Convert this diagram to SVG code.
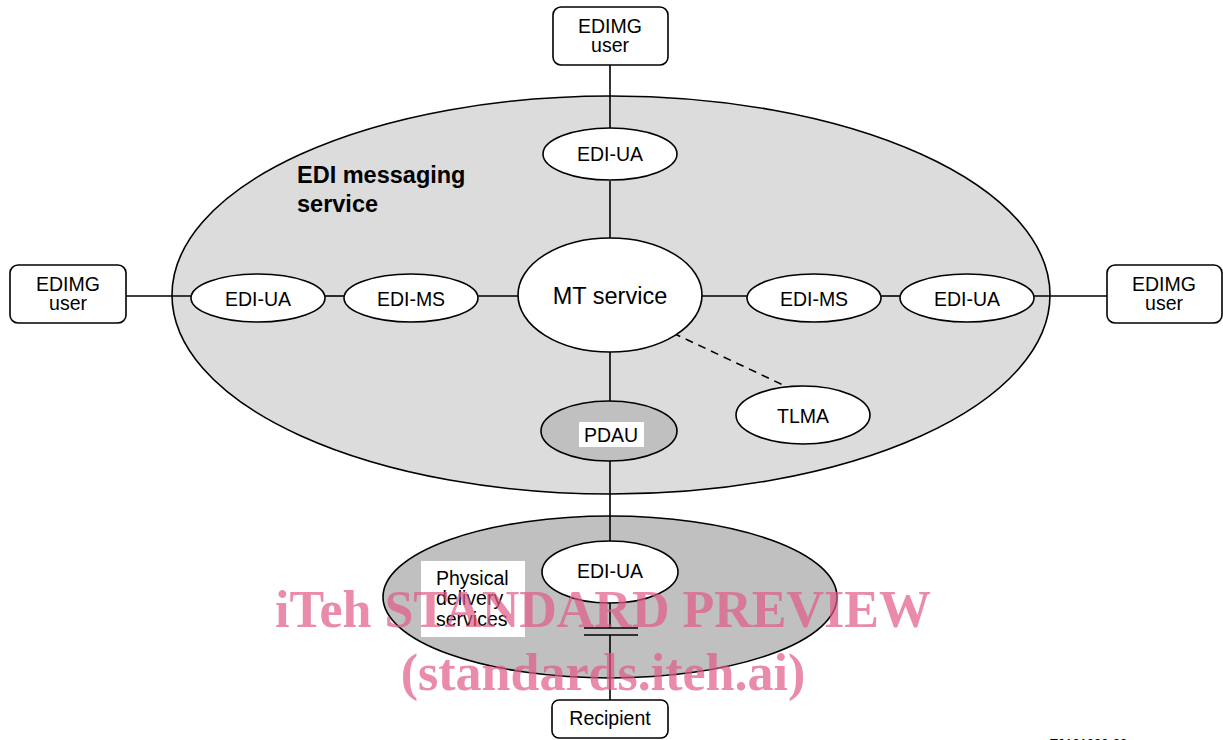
<svg xmlns="http://www.w3.org/2000/svg" width="1223" height="740" viewBox="0 0 1223 740">
  <style>
    .lbl { font-family: "Liberation Sans", Arial, sans-serif; font-size: 19.5px; fill: #000; text-anchor: middle; }
    .left { text-anchor: start; }
    .big { font-size: 23.5px; }
    .title { font-family: "Liberation Sans", Arial, sans-serif; font-size: 23.5px; font-weight: bold; fill: #000; }
    .node { fill: #fff; stroke: #000; stroke-width: 1.6; }
    .grey { fill: #c0c0c0; stroke: #000; stroke-width: 1.6; }
    .wire { stroke: #000; stroke-width: 1.6; fill: none; }
    .mark { font-family: "Liberation Serif", "Times New Roman", serif; font-weight: bold; fill: #e05a84; fill-opacity: 0.7; text-anchor: middle; }
  </style>

  <rect width="1223" height="740" fill="#fff"/>

  <!-- service areas -->
  <g id="edi-messaging-service">
    <ellipse cx="611" cy="295" rx="439" ry="199" fill="#dcdcdc" stroke="#000" stroke-width="1.6"/>
    <text class="title" x="297" y="183">EDI messaging</text>
    <text class="title" x="297" y="212">service</text>
  </g>
  <g id="physical-delivery-services">
    <ellipse cx="610" cy="597" rx="227" ry="81" class="grey"/>
    <rect x="421" y="561" width="104" height="76" fill="#fff"/>
    <text class="lbl left" x="436" y="585">Physical</text>
    <text class="lbl left" x="436" y="605">delivery</text>
    <text class="lbl left" x="436" y="626">services</text>
  </g>

  <!-- connectors -->
  <g id="connectors">
    <line class="wire" x1="610" y1="65" x2="610" y2="128"/>
    <line class="wire" x1="610" y1="181" x2="610" y2="238"/>
    <line class="wire" x1="126" y1="296" x2="192" y2="296"/>
    <line class="wire" x1="325" y1="296" x2="344" y2="296"/>
    <line class="wire" x1="478" y1="296" x2="518" y2="296"/>
    <line class="wire" x1="702" y1="296" x2="747" y2="296"/>
    <line class="wire" x1="881" y1="296" x2="900" y2="296"/>
    <line class="wire" x1="1034" y1="296" x2="1107" y2="296"/>
    <line class="wire" x1="610" y1="352" x2="610" y2="402"/>
    <line class="wire" x1="610" y1="461" x2="610" y2="541"/>
    <line class="wire" x1="673" y1="333" x2="783" y2="385" stroke-dasharray="8,6"/>
    <line class="wire" x1="610" y1="603" x2="610" y2="628"/>
    <line class="wire" x1="584" y1="628" x2="638" y2="628"/>
    <line class="wire" x1="584" y1="635" x2="638" y2="635"/>
    <line class="wire" x1="610" y1="635" x2="610" y2="700"/>
  </g>

  <!-- users -->
  <g id="user-top">
    <rect class="node" x="553" y="7" width="115" height="58" rx="8"/>
    <text class="lbl" x="610" y="33">EDIMG</text>
    <text class="lbl" x="610" y="52">user</text>
  </g>
  <g id="user-left">
    <rect class="node" x="10" y="265" width="116" height="58" rx="8"/>
    <text class="lbl" x="68" y="291">EDIMG</text>
    <text class="lbl" x="68" y="310">user</text>
  </g>
  <g id="user-right">
    <rect class="node" x="1107" y="265" width="115" height="58" rx="8"/>
    <text class="lbl" x="1164" y="291">EDIMG</text>
    <text class="lbl" x="1164" y="310">user</text>
  </g>
  <g id="recipient">
    <rect class="node" x="552" y="700" width="116" height="38" rx="7"/>
    <text class="lbl" x="610" y="725">Recipient</text>
  </g>

  <!-- agents -->
  <g id="ua-top">
    <ellipse class="node" cx="610" cy="154" rx="67" ry="26"/>
    <text class="lbl" x="610" y="161">EDI-UA</text>
  </g>
  <g id="ua-left">
    <ellipse class="node" cx="258" cy="298" rx="67" ry="24"/>
    <text class="lbl" x="258" y="306">EDI-UA</text>
  </g>
  <g id="ms-left">
    <ellipse class="node" cx="411" cy="298" rx="67" ry="24"/>
    <text class="lbl" x="411" y="306">EDI-MS</text>
  </g>
  <g id="mt-service">
    <ellipse class="node" cx="610" cy="295" rx="92" ry="57"/>
    <text class="lbl big" x="610" y="304">MT service</text>
  </g>
  <g id="ms-right">
    <ellipse class="node" cx="814" cy="298" rx="67" ry="24"/>
    <text class="lbl" x="814" y="306">EDI-MS</text>
  </g>
  <g id="ua-right">
    <ellipse class="node" cx="967" cy="298" rx="67" ry="24"/>
    <text class="lbl" x="967" y="306">EDI-UA</text>
  </g>
  <g id="tlma">
    <ellipse class="node" cx="803" cy="415" rx="67" ry="29"/>
    <text class="lbl" x="803" y="423">TLMA</text>
  </g>
  <g id="pdau">
    <ellipse class="grey" cx="609" cy="431" rx="68" ry="30"/>
    <rect x="579" y="422" width="65" height="25" fill="#fff"/>
    <text class="lbl" x="611" y="442">PDAU</text>
  </g>
  <g id="ua-bottom">
    <ellipse class="node" cx="610" cy="572" rx="68" ry="31"/>
    <text class="lbl" x="610" y="578">EDI-UA</text>
  </g>

  <!-- figure reference -->
  <text x="1050" y="748" font-family="Liberation Sans, Arial, sans-serif" font-size="13" fill="#000">T0101200-93</text>

  <!-- overlay marks -->
  <g id="overlay">
    <text class="mark" x="603" y="627" font-size="52">iTeh STANDARD PREVIEW</text>
    <text class="mark" x="603" y="690" font-size="52">(standards.iteh.ai)</text>
    <text class="mark" x="603" y="755" font-size="24" style="font-weight:normal">ISO/IEC 10021-9:1999</text>
  </g>
</svg>
